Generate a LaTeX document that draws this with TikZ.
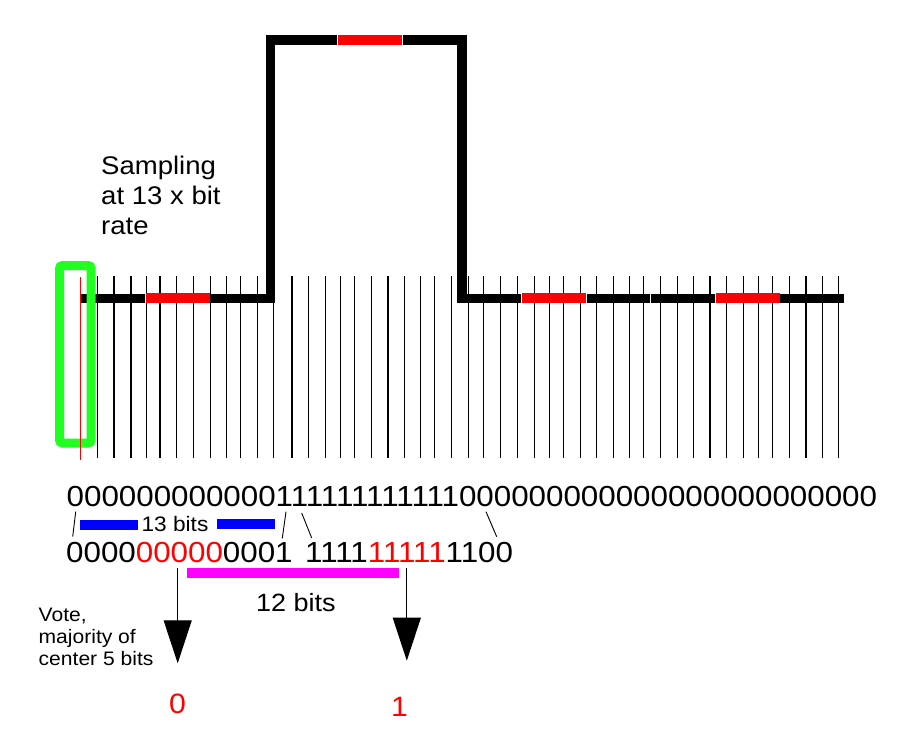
\documentclass[tikz,border=0pt]{standalone}
\usepackage{fontspec}
\setmainfont[FakeStretch=1.08]{Liberation Sans}
\usetikzlibrary{positioning,arrows.meta}
\definecolor{sampgreen}{RGB}{32,255,32}
\definecolor{barblue}{RGB}{0,0,255}
\definecolor{barmag}{RGB}{255,0,255}
\tikzset{
    x=1pt,
    y=-1pt,
    signal/.style = {
        draw,
        line width=9.5pt,
        line join=miter
    },
    bitmark/.style = {
        draw=red,
        line width=9.5pt
    },
    gap/.style = {
        draw=white,
        line width=1pt
    },
    sample/.style = {
        draw,
        line width=1.4pt
    },
    thicksample/.style = {
        draw,
        line width=2.4pt
    },
    window/.style = {
        draw=sampgreen,
        line width=9pt,
        rounded corners=3pt
    },
    tie/.style = {
        draw,
        line width=0.9pt
    },
    bitbar/.style = {
        draw,
        line width=10pt
    },
    vote/.style = {
        draw,
        line width=1pt,
        -{Triangle[width=28pt,length=43pt]}
    },
    digits/.style = {
        inner sep=0pt,
        anchor=base west,
        font=\fontsize{29}{34}\selectfont
    },
    note/.style = {
        inner sep=0pt,
        align=left,
        anchor=north west
    },
}

\begin{document}
\begin{tikzpicture}
    \useasboundingbox (0,0) rectangle (903,732);

    % sampling instants
    \foreach \sx in {97.3,114,146.3,176.3,193.3,210.3,226.3,240.3,257.3,273.3,
                     308.3,325.3,340.3,354.3,371.3,404.3,420.3,434.3,451.3,468.3,
                     483.3,500.3,517.3,534.3,549.3,563.3,580.3,596.3,613.3,629.3,
                     643.3,660.3,677.3,693.3,726.3,743.3,758.3,772.3,789.3,822.3,838.3}
        \path[sample] (\sx,276) -- (\sx,458);
    \foreach \sx in {130.7,159.7,291.7,387.7,709.7,806}
        \path[thicksample] (\sx,276) -- (\sx,458);

    % the signal
    \path[signal] (80.7,298.3) -- (270.3,298.3) -- (270.3,40) -- (462,40)
        -- (462,298.3) -- (844,298.3);
    \path[bitmark] (146,298) -- (210,298);
    \path[bitmark] (338,40) -- (402,40);
    \path[bitmark] (522,298) -- (586,298);
    \path[bitmark] (716,298) -- (780,298);
    \foreach \gx in {145.5,521.5,586.5,650.3,715.5}
        \path[gap] (\gx,292) -- (\gx,304.5);
    \foreach \gx in {337.5,402.5}
        \path[gap] (\gx,34) -- (\gx,46);

    % start bit window
    \path[window] (59.5,265.5) rectangle (91.2,443);
    \path[draw=red, line width=1pt] (80.7,277) -- (80.7,460);

    \node[note, font=\fontsize{25.5}{30}\selectfont] (samplingtxt) at (101,156)
        {Sampling\\at 13 x bit\\rate};

    % sampled bits
    \node[digits] (rowa) at (66.5,506)
        {000000000000111111111111000000000000000000000000};
    \node[digits] (rowb1) at (66,562) {0000\textcolor{red}{00000}0001};
    \node[digits] (rowb2) at (305,562) {1111\textcolor{red}{11111}1100};

    \coordinate (ta) at (75.7,511.7);
    \coordinate (ba) at (72.7,536.7);
    \coordinate (tb) at (286,511.7);
    \coordinate (bb) at (282.3,538.3);
    \coordinate (tc) at (301.7,513);
    \coordinate (bc) at (311.7,538);
    \coordinate (td) at (486,511.7);
    \coordinate (bd) at (496.7,536.7);
    \path[tie] (ta) -- (ba);
    \path[tie] (tb) -- (bb);
    \path[tie] (tc) -- (bc);
    \path[tie] (td) -- (bd);

    \node[inner sep=0pt, anchor=base, font=\fontsize{21}{25}\selectfont] (thirteen)
        at (175,531.5) {13 bits};
    \path[bitbar, barblue] (80,524.5) -- (137.7,524.5);
    \path[bitbar, barblue] (216.7,524) -- (275,524);

    \path[bitbar, barmag] (186.7,572.7) -- (399,572.7);
    \node[inner sep=0pt, anchor=base, font=\fontsize{25}{30}\selectfont] (twelve)
        at (296,611.5) {12 bits};

    % majority vote
    \node[note, font=\fontsize{19.5}{22}\selectfont] (votetxt) at (38.5,608)
        {Vote,\\majority of\\center 5 bits};
    \coordinate (va) at (177.7,568);
    \coordinate (wa) at (177.7,663.3);
    \coordinate (vb) at (406.8,568);
    \coordinate (wb) at (406.8,660.7);
    \path[vote] (va) -- (wa);
    \path[vote] (vb) -- (wb);

    \node[inner sep=0pt, anchor=base, red, font=\fontsize{28}{34}\selectfont] (zero)
        at (177.5,713) {0};
    \node[inner sep=0pt, anchor=base, red, font=\fontsize{28}{34}\selectfont] (one)
        at (399.5,716) {1};
\end{tikzpicture}
\end{document}
